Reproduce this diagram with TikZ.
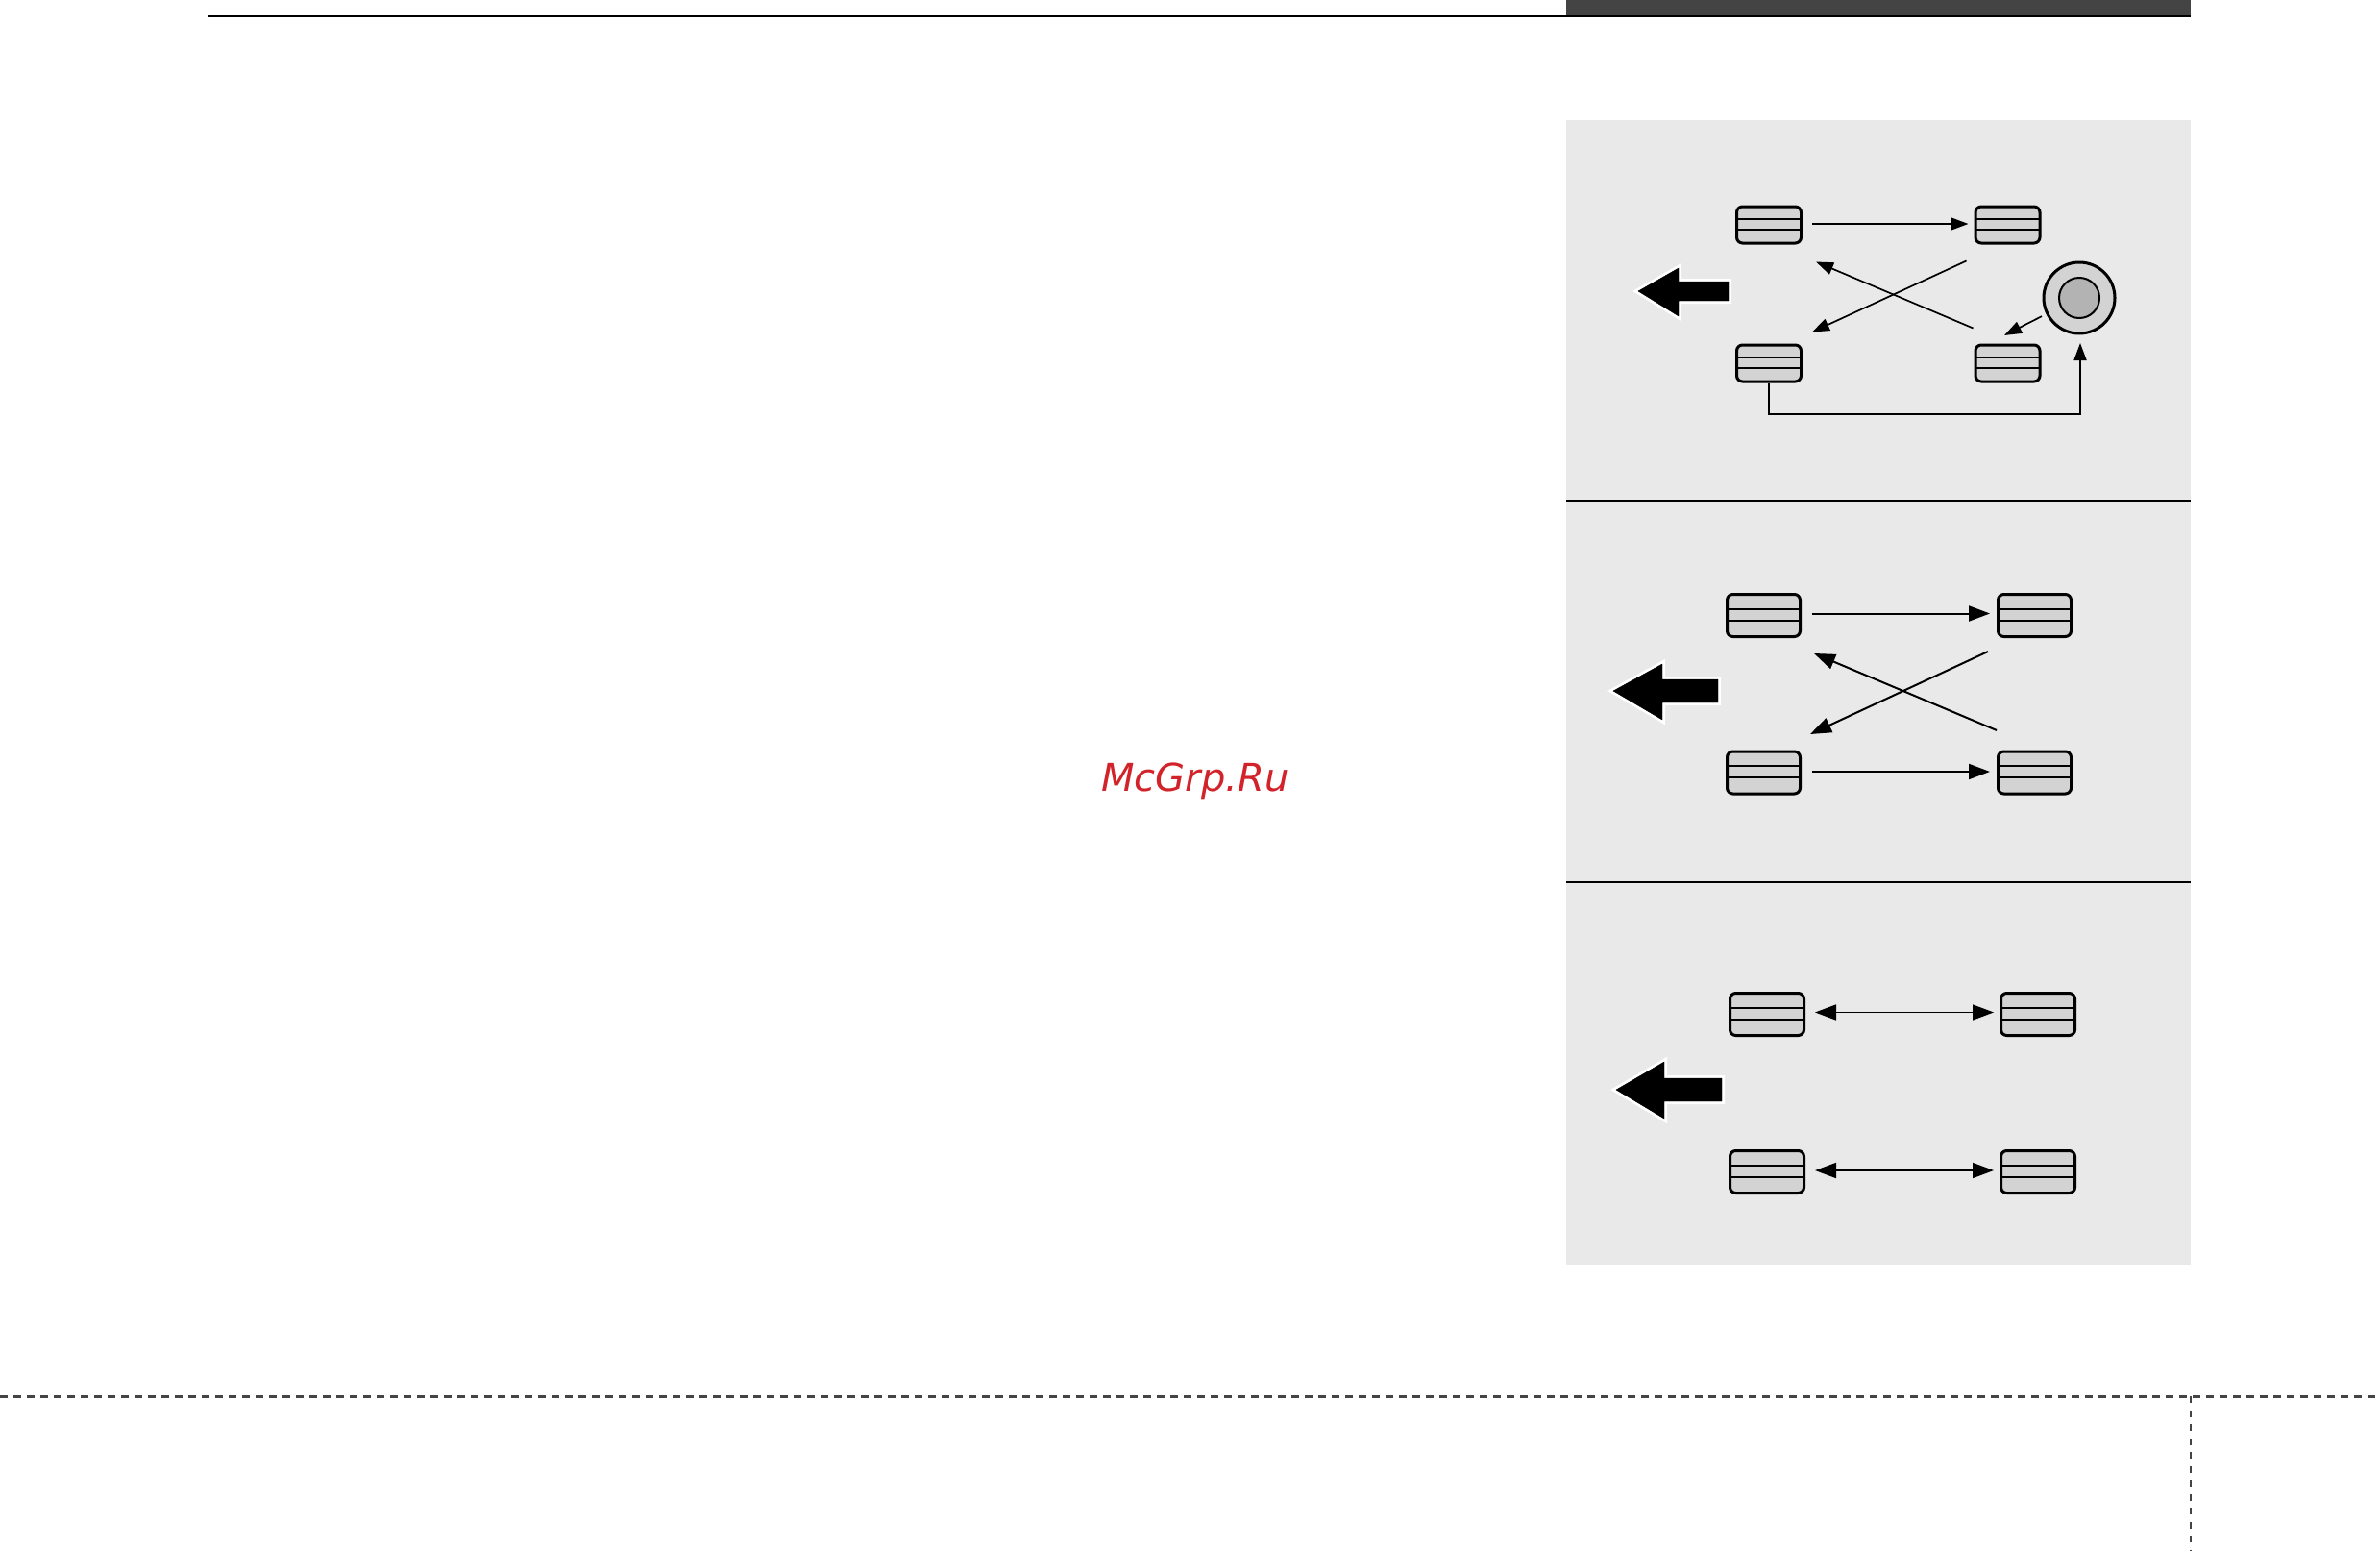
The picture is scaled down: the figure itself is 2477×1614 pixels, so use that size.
\documentclass[tikz,border=0pt]{standalone}
\usepackage{fontspec}
\usetikzlibrary{arrows.meta,calc}
\newfontfamily\markfont{DejaVu Sans}
\definecolor{panelgray}{HTML}{E9E9E9}
\definecolor{tyregray}{HTML}{D3D3D3}
\definecolor{hubgray}{HTML}{B3B3B3}
\definecolor{bargray}{HTML}{444444}
\definecolor{markred}{HTML}{D2232A}

\begin{document}
\begin{tikzpicture}[x=1pt, y=-1pt,
        tyre/.style 2 args={draw, fill=tyregray, line width=3pt, rounded corners=6pt, inner sep=0pt,
            minimum width=#1, minimum height=#2,
            path picture={
                \draw[line width=2pt] ($(path picture bounding box.north west)!0.35!(path picture bounding box.south west)$)
                    -- ($(path picture bounding box.north east)!0.35!(path picture bounding box.south east)$);
                \draw[line width=2pt] ($(path picture bounding box.north west)!0.62!(path picture bounding box.south west)$)
                    -- ($(path picture bounding box.north east)!0.62!(path picture bounding box.south east)$);
            }},
        tyreS/.style={tyre={67pt}{38pt}},
        tyreL/.style={tyre={76pt}{44pt}},
        wheel/.style={circle, draw, inner sep=0pt},
        flowS/.style={line width=1.7pt, -{Triangle[length=18pt,width=13pt]}},
        flowL/.style={line width=2pt, -{Triangle[length=22pt,width=16pt]}},
        swapL/.style={line width=1.6pt, {Triangle[length=22pt,width=16pt]}-{Triangle[length=22pt,width=16pt]}},
        bigarrow/.style={fill=black, preaction={draw=white, line width=6pt, line join=miter}}]
    \useasboundingbox (0,0) rectangle (2477,1614);

    % page frame
    \fill[bargray] (1630,0) rectangle (2280,16);
    \draw[line width=2pt] (216,16.5) -- (2280,16.5);
    \draw[bargray, line width=3pt, dash pattern=on 8pt off 6pt] (0,1453) -- (2477,1453);
    \draw[bargray, line width=1.5pt, dash pattern=on 7pt off 7.5pt] (2280,1453) -- (2280,1614);

    % panels
    \fill[panelgray] (1630,125) rectangle (2280,1316);
    \draw[line width=2pt] (1630,521) -- (2280,521);
    \draw[line width=2pt] (1630,918) -- (2280,918);

    \node[font=\markfont\itshape\fontsize{40}{48}\selectfont, text=markred, anchor=base] (mark) at (1244,823) {McGrp.Ru};

    % panel 1
    \node[tyreS] (p1tl) at (1841,234) {};
    \node[tyreS] (p1tr) at (2089.5,234) {};
    \node[tyreS] (p1bl) at (1841,378) {};
    \node[tyreS] (p1br) at (2089.5,378) {};
    \node[wheel, fill=tyregray, line width=3pt, minimum size=74pt] (p1sp) at (2164,310) {};
    \node[wheel, fill=hubgray, line width=2pt, minimum size=42pt] (p1hub) at (p1sp) {};

    \draw[bigarrow] (1705,303) -- (1747,279) -- (1747,293) -- (1799,293) -- (1799,313) -- (1747,313) -- (1747,329) -- cycle;
    \draw[flowS] ([shift={(10,-1)}]p1tl.east) -- ([shift={(-6,-1)}]p1tr.west);
    \draw[flowS] ([shift={(-8,17)}]p1tr.south west) -- ([shift={(10,-12)}]p1bl.north east);
    \draw[flowS] ([shift={(-1,-16)}]p1br.north west) -- ([shift={(14,18)}]p1tl.south east);
    \draw[flowS, shorten <=5pt] (p1sp.206) -- ([shift={(-38.5,-8.5)}]p1br.north east);
    \draw[flowS] (p1bl.south) -- ++(0,32.5) -| ([shift={(1,8.5)}]p1sp.south);

    % panel 2
    \node[tyreL] (p2tl) at (1835.5,640.5) {};
    \node[tyreL] (p2tr) at (2117.5,640.5) {};
    \node[tyreL] (p2bl) at (1835.5,804) {};
    \node[tyreL] (p2br) at (2117.5,804) {};

    \draw[bigarrow] (1679,719) -- (1730,691) -- (1730,707) -- (1788,707) -- (1788,731) -- (1730,731) -- (1730,749) -- cycle;
    \draw[flowL] ([shift={(11,-2)}]p2tl.east) -- ([shift={(-7,-2)}]p2tr.west);
    \draw[flowL] ([shift={(11,-1)}]p2bl.east) -- ([shift={(-7,-1)}]p2br.west);
    \draw[flowL] ([shift={(-9,14)}]p2tr.south west) -- ([shift={(9,-16.5)}]p2bl.north east);
    \draw[flowL] ([shift={(0,-20.5)}]p2br.north west) -- ([shift={(13,16)}]p2tl.south east);

    % panel 3
    \node[tyre={77pt}{44pt}] (p3tl) at (1839,1055.5) {};
    \node[tyre={77pt}{44pt}] (p3tr) at (2121,1055.5) {};
    \node[tyre={77pt}{44pt}] (p3bl) at (1839,1219.5) {};
    \node[tyre={77pt}{44pt}] (p3br) at (2121,1219.5) {};

    \draw[bigarrow] (1682,1134) -- (1732,1105) -- (1732,1122) -- (1792,1122) -- (1792,1146) -- (1732,1146) -- (1732,1164) -- cycle;
    \draw[swapL] ([shift={(10,-2)}]p3tl.east) -- ([shift={(-6,-2)}]p3tr.west);
    \draw[swapL] ([shift={(10,-1.5)}]p3bl.east) -- ([shift={(-6,-1.5)}]p3br.west);
\end{tikzpicture}
\end{document}
